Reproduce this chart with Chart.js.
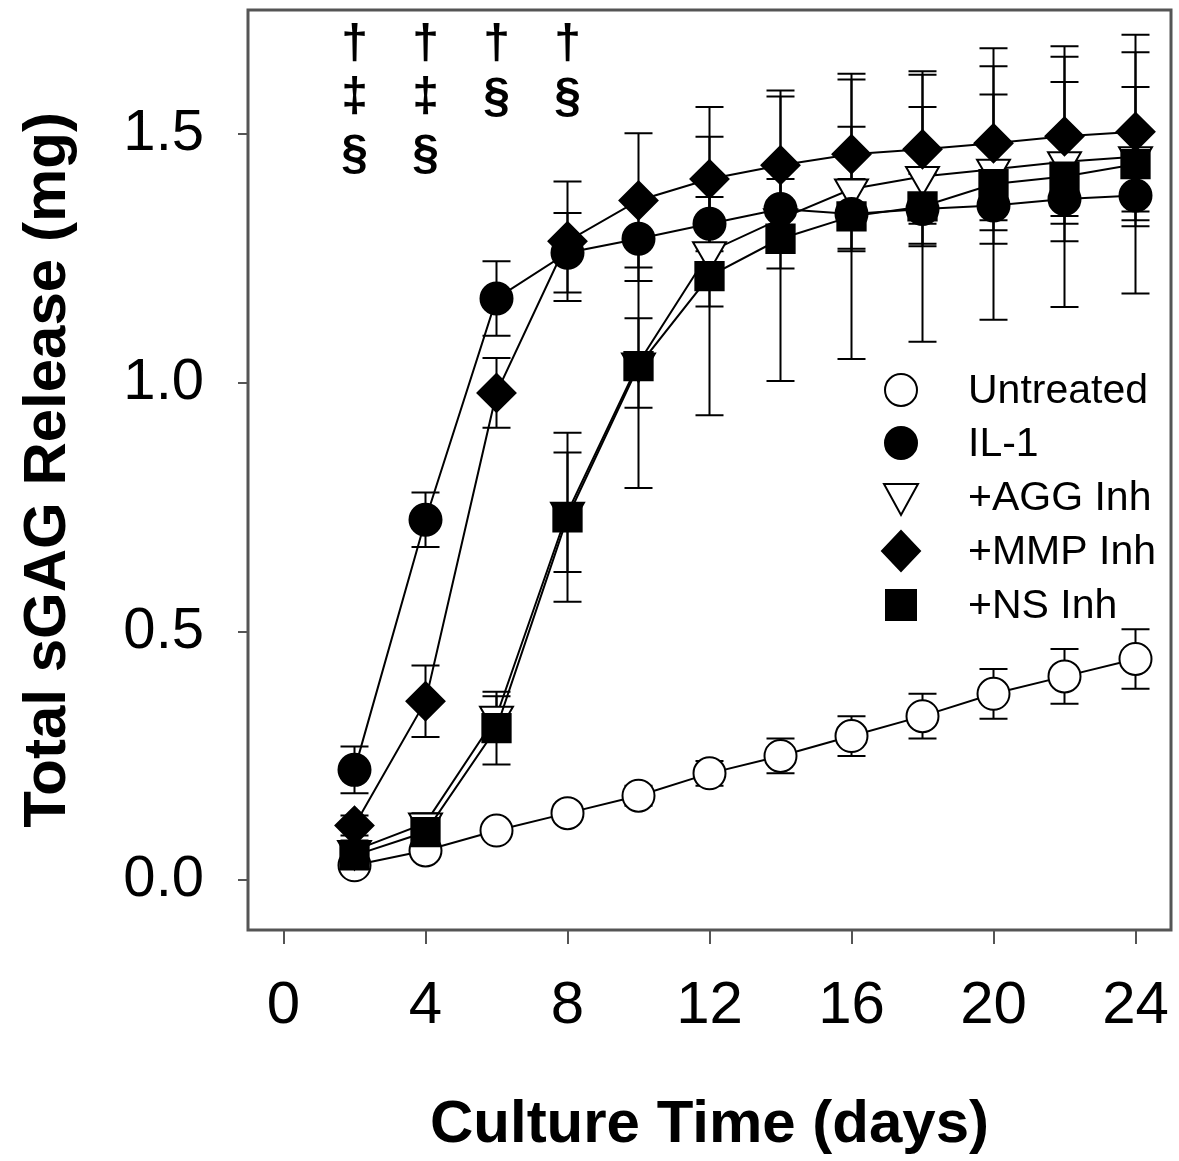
<!DOCTYPE html>
<html>
<head>
<meta charset="utf-8">
<script src="https://cdn.jsdelivr.net/npm/chart.js@4/dist/chart.umd.min.js"></script>
<style>
  html, body { margin: 0; padding: 0; background: #fff; }
</style>
</head>
<body>
<canvas id="myChart" width="1179" height="1161"></canvas>
<script>
// culture days
const days = [2, 4, 6, 8, 10, 12, 14, 16, 18, 20, 22, 24];

// total sGAG release (mg)
const untreated = [0.03, 0.06, 0.10, 0.135, 0.17, 0.215, 0.25, 0.29, 0.33, 0.375, 0.41, 0.445];
const il1 = [0.222, 0.725, 1.17, 1.262, 1.29, 1.32, 1.35, 1.34, 1.35, 1.357, 1.37, 1.377];
const aggInh = [0.06, 0.115, 0.33, 0.74, 1.04, 1.264, 1.33, 1.39, 1.415, 1.43, 1.445, 1.455];
const mmpInh = [0.11, 0.36, 0.98, 1.285, 1.367, 1.41, 1.438, 1.46, 1.47, 1.482, 1.496, 1.505];
const nsInh = [0.05, 0.097, 0.306, 0.73, 1.034, 1.215, 1.29, 1.335, 1.355, 1.40, 1.415, 1.44];

// error bar half-widths
const untreatedErr = [0.01, 0.01, 0.01, 0.015, 0.02, 0.025, 0.035, 0.04, 0.045, 0.05, 0.055, 0.06];
const il1Err = [0.047, 0.055, 0.075, 0.08, 0.085, 0.09, 0.06, 0.07, 0.07, 0.05, 0.05, 0.05];
const aggErr = [0.02, 0.02, 0.04, 0.12, 0.09, 0.11, 0.1, 0.125, 0.14, 0.15, 0.16, 0.14];
const mmpErr = [0.02, 0.072, 0.07, 0.12, 0.135, 0.145, 0.15, 0.15, 0.15, 0.155, 0.16, 0.16];
const nsErr = [0.02, 0.02, 0.073, 0.17, 0.245, 0.28, 0.286, 0.287, 0.272, 0.273, 0.262, 0.26];

const xTicks = [0, 4, 8, 12, 16, 20, 24];
const yTicks = [0, 0.5, 1.0, 1.5];

// significance marks above the curves
const sigDays = [2, 4, 6, 8];
const sigMarks = [["†", "‡", "§"], ["†", "‡", "§"], ["†", "§"], ["†", "§"]];

const labels = ["Untreated", "IL-1", "+AGG Inh", "+MMP Inh", "+NS Inh"];
const series = [untreated, il1, aggInh, mmpInh, nsInh];
const errs = [untreatedErr, il1Err, aggErr, mmpErr, nsErr];

const styles = [
  { pointStyle: "circle", fill: "#fff", r: 16, rot: 0 },
  { pointStyle: "circle", fill: "#000", r: 16, rot: 0 },
  { pointStyle: "triangle", fill: "#fff", r: 19, rot: 180 },
  { pointStyle: "rectRot", fill: "#000", r: 19, rot: 0 },
  { pointStyle: "rect", fill: "#000", r: 20, rot: 0 },
];

const FONT = "'Liberation Sans', Arial, sans-serif";

const datasets = series.map(function (vals, k) {
  return {
    label: labels[k],
    data: vals.map(function (v, i) { return { x: days[i], y: v }; }),
    borderColor: "#000",
    borderWidth: 2,
    pointStyle: styles[k].pointStyle,
    pointRotation: styles[k].rot,
    pointRadius: styles[k].r,
    pointBackgroundColor: styles[k].fill,
    pointBorderColor: "#000",
    pointBorderWidth: 2,
    tension: 0,
    order: [4, 2, 3, 1, 0][k],
  };
});

const errorBars = {
  id: "errorBars",
  beforeDatasetsDraw(chart) {
    const ctx = chart.ctx;
    const xs = chart.scales.x, ys = chart.scales.y;
    ctx.save();
    ctx.strokeStyle = "#000";
    ctx.lineWidth = 2;
    series.forEach(function (vals, k) {
      vals.forEach(function (v, i) {
        const e = errs[k][i];
        const px = xs.getPixelForValue(days[i]);
        const top = ys.getPixelForValue(v + e);
        const bot = ys.getPixelForValue(v - e);
        ctx.beginPath();
        ctx.moveTo(px, top); ctx.lineTo(px, bot);
        ctx.moveTo(px - 14, top); ctx.lineTo(px + 14, top);
        ctx.moveTo(px - 14, bot); ctx.lineTo(px + 14, bot);
        ctx.stroke();
      });
    });
    ctx.restore();
  },
};

function drawMarker(ctx, k, x, y) {
  const s = styles[k];
  ctx.beginPath();
  if (s.pointStyle === "circle") {
    ctx.arc(x, y, 16, 0, Math.PI * 2);
  } else if (s.pointStyle === "triangle") {
    ctx.moveTo(x - 17, y - 13); ctx.lineTo(x + 17, y - 13); ctx.lineTo(x, y + 18); ctx.closePath();
  } else if (s.pointStyle === "rectRot") {
    ctx.moveTo(x, y - 20); ctx.lineTo(x + 19, y); ctx.lineTo(x, y + 20); ctx.lineTo(x - 19, y); ctx.closePath();
  } else {
    ctx.rect(x - 15, y - 15, 30, 30);
  }
  ctx.fillStyle = s.fill;
  ctx.fill();
  ctx.lineWidth = 2;
  ctx.strokeStyle = "#000";
  ctx.stroke();
}

const extras = {
  id: "extras",
  afterDraw(chart) {
    const ctx = chart.ctx;
    const a = chart.chartArea;
    const xs = chart.scales.x;
    ctx.save();
    // frame
    ctx.strokeStyle = "#555";
    ctx.lineWidth = 3;
    ctx.strokeRect(a.left, a.top, a.right - a.left, a.bottom - a.top);
    // legend
    ctx.font = "41px " + FONT;
    ctx.textBaseline = "middle";
    ctx.textAlign = "left";
    const rows = [390, 443, 497, 551, 605];
    labels.forEach(function (lab, k) {
      drawMarker(ctx, k, 901, rows[k]);
      ctx.fillStyle = "#000";
      ctx.fillText(lab, 968, rows[k] + 2);
    });
    // significance symbols
    ctx.font = "bold 48px " + FONT;
    ctx.textAlign = "center";
    const lineY = [45, 98, 155];
    sigDays.forEach(function (d, i) {
      const px = xs.getPixelForValue(d);
      sigMarks[i].forEach(function (m, j) {
        ctx.fillText(m, px, lineY[j]);
      });
    });
    ctx.restore();
  },
};

new Chart(document.getElementById("myChart"), {
  type: "line",
  data: { datasets: datasets },
  plugins: [errorBars, extras],
  options: {
    responsive: false,
    animation: false,
    devicePixelRatio: 1,
    layout: { autoPadding: false, padding: { top: 10, right: 8, left: 0, bottom: 0 } },
    plugins: { legend: { display: false }, tooltip: { enabled: false } },
    scales: {
      x: {
        type: "linear",
        min: -1,
        max: 25,
        afterBuildTicks: function (s) { s.ticks = xTicks.map(function (v) { return { value: v }; }); },
        afterFit: function (s) {
          s.height = 231;
          s.paddingLeft = 0;
          s.paddingRight = 0;
        },
        border: { display: false },
        grid: { drawOnChartArea: false, drawTicks: true, tickLength: 14, color: "#555", lineWidth: 2 },
        ticks: {
          color: "#000",
          padding: 26,
          maxRotation: 0,
          font: { family: FONT, size: 60 },
        },
        title: {
          display: true,
          text: "Culture Time (days)",
          color: "#000",
          padding: { top: 0, bottom: 0 },
          font: { family: FONT, size: 60, weight: "bold" },
        },
      },
      y: {
        min: -0.1,
        max: 1.75,
        afterBuildTicks: function (s) { s.ticks = yTicks.map(function (v) { return { value: v }; }); },
        afterFit: function (s) {
          s.width = 248;
          s.paddingTop = 0;
          s.paddingBottom = 0;
        },
        border: { display: false },
        grid: { drawOnChartArea: false, drawTicks: true, tickLength: 10, color: "#555", lineWidth: 2 },
        ticks: {
          color: "#000",
          padding: 34,
          callback: function (v) { return v.toFixed(1); },
          font: { family: FONT, size: 58 },
        },
        title: {
          display: true,
          text: "Total sGAG Release (mg)",
          color: "#000",
          padding: { top: 12, bottom: 0 },
          font: { family: FONT, size: 60, weight: "bold" },
        },
      },
    },
  },
});
</script>
</body>
</html>
